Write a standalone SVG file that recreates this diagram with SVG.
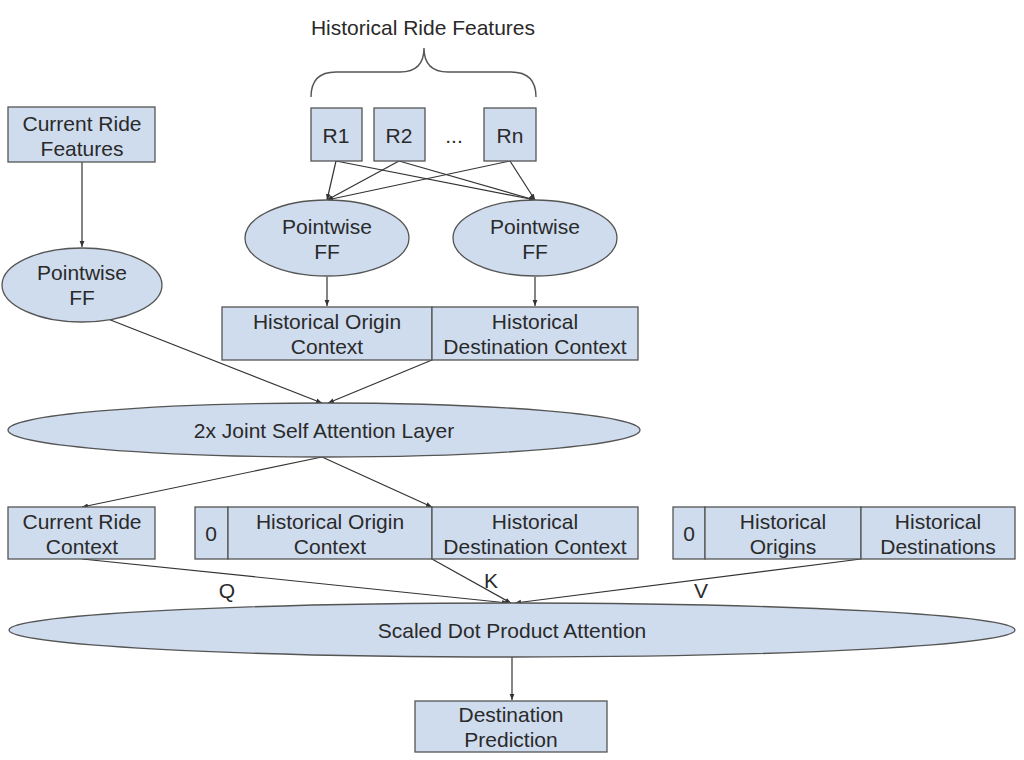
<svg xmlns="http://www.w3.org/2000/svg" width="1024" height="760" viewBox="0 0 1024 760">
<defs>
<marker id="ah" viewBox="0 0 10 10" refX="10" refY="5" markerWidth="5" markerHeight="5" orient="auto">
<path d="M0,1 L10,5 L0,9 z" fill="#333"/>
</marker>
<style>
.n{fill:#cfdcee;stroke:#555;stroke-width:1.3}
.t{font-family:"Liberation Sans",Arial,sans-serif;font-size:21px;fill:#2a2a2a;text-anchor:middle}
.c{stroke:#333;stroke-width:1.2;fill:none;marker-end:url(#ah)}
.b{stroke:#555;stroke-width:1.4;fill:none}
</style>
</defs>
<rect width="1024" height="760" fill="#fff"/>

<g id="title">
<text class="t" x="423" y="35">Historical Ride Features</text>
<path class="b" d="M311,97 Q311,72 336,72 L400,72 Q424,72 424,48 Q424,72 448,72 L511,72 Q536,72 536,97"/>
</g>

<g id="connectors">
<line class="c" x1="82" y1="162" x2="82" y2="247"/>
<line class="c" x1="336" y1="161" x2="327" y2="200"/>
<line class="c" x1="399" y1="161" x2="327" y2="200"/>
<line class="c" x1="510" y1="161" x2="327" y2="200"/>
<line class="c" x1="336" y1="161" x2="535" y2="200"/>
<line class="c" x1="399" y1="161" x2="535" y2="200"/>
<line class="c" x1="510" y1="161" x2="535" y2="200"/>
<line class="c" x1="327" y1="277" x2="327" y2="306"/>
<line class="c" x1="535" y1="277" x2="535" y2="306"/>
<line class="c" x1="108" y1="319" x2="322" y2="403"/>
<line class="c" x1="432" y1="360" x2="328" y2="403"/>
<line class="c" x1="322" y1="457" x2="82" y2="507"/>
<line class="c" x1="322" y1="457" x2="432" y2="507"/>
<line class="c" x1="82" y1="559" x2="508" y2="603"/>
<line class="c" x1="432" y1="559" x2="511" y2="603"/>
<line class="c" x1="861" y1="559" x2="515" y2="603"/>
<line class="c" x1="512" y1="657" x2="512" y2="700"/>
<text class="t" x="227" y="598">Q</text>
<text class="t" x="491" y="588">K</text>
<text class="t" x="701" y="598">V</text>
</g>

<g id="current-ride-features">
<rect class="n" x="8" y="107" width="147" height="55"/>
<text class="t" x="82" y="131">Current Ride</text>
<text class="t" x="82" y="156">Features</text>
</g>

<g id="r1">
<rect class="n" x="311" y="108" width="51" height="53"/>
<text class="t" x="336" y="143">R1</text>
</g>
<g id="r2">
<rect class="n" x="374" y="108" width="51" height="53"/>
<text class="t" x="399" y="143">R2</text>
</g>
<g id="dots">
<text class="t" x="454" y="143">...</text>
</g>
<g id="rn">
<rect class="n" x="484" y="108" width="52" height="53"/>
<text class="t" x="510" y="143">Rn</text>
</g>

<g id="pff-current">
<ellipse class="n" cx="82" cy="285" rx="80" ry="37"/>
<text class="t" x="82" y="280">Pointwise</text>
<text class="t" x="82" y="305">FF</text>
</g>
<g id="pff-origin">
<ellipse class="n" cx="327" cy="238" rx="82" ry="38"/>
<text class="t" x="327" y="234">Pointwise</text>
<text class="t" x="327" y="259">FF</text>
</g>
<g id="pff-destination">
<ellipse class="n" cx="535" cy="238" rx="82" ry="38"/>
<text class="t" x="535" y="234">Pointwise</text>
<text class="t" x="535" y="259">FF</text>
</g>

<g id="historical-context">
<rect class="n" x="222" y="307" width="210" height="53"/>
<rect class="n" x="432" y="307" width="206" height="53"/>
<text class="t" x="327" y="329">Historical Origin</text>
<text class="t" x="327" y="354">Context</text>
<text class="t" x="535" y="329">Historical</text>
<text class="t" x="535" y="354">Destination Context</text>
</g>

<g id="joint-attention">
<ellipse class="n" cx="324" cy="430" rx="316" ry="27"/>
<text class="t" x="324" y="438">2x Joint Self Attention Layer</text>
</g>

<g id="current-ride-context">
<rect class="n" x="8" y="507" width="147" height="52"/>
<text class="t" x="82" y="529">Current Ride</text>
<text class="t" x="82" y="554">Context</text>
</g>

<g id="keys">
<rect class="n" x="195" y="507" width="33" height="52"/>
<rect class="n" x="228" y="507" width="204" height="52"/>
<rect class="n" x="432" y="507" width="206" height="52"/>
<text class="t" x="211" y="541">0</text>
<text class="t" x="330" y="529">Historical Origin</text>
<text class="t" x="330" y="554">Context</text>
<text class="t" x="535" y="529">Historical</text>
<text class="t" x="535" y="554">Destination Context</text>
</g>

<g id="values">
<rect class="n" x="673" y="507" width="32" height="52"/>
<rect class="n" x="705" y="507" width="156" height="52"/>
<rect class="n" x="861" y="507" width="154" height="52"/>
<text class="t" x="689" y="541">0</text>
<text class="t" x="783" y="529">Historical</text>
<text class="t" x="783" y="554">Origins</text>
<text class="t" x="938" y="529">Historical</text>
<text class="t" x="938" y="554">Destinations</text>
</g>

<g id="scaled-dot-product">
<ellipse class="n" cx="512" cy="630" rx="503" ry="27"/>
<text class="t" x="512" y="638">Scaled Dot Product Attention</text>
</g>

<g id="destination-prediction">
<rect class="n" x="415" y="701" width="192" height="51"/>
<text class="t" x="511" y="722">Destination</text>
<text class="t" x="511" y="747">Prediction</text>
</g>
</svg>
